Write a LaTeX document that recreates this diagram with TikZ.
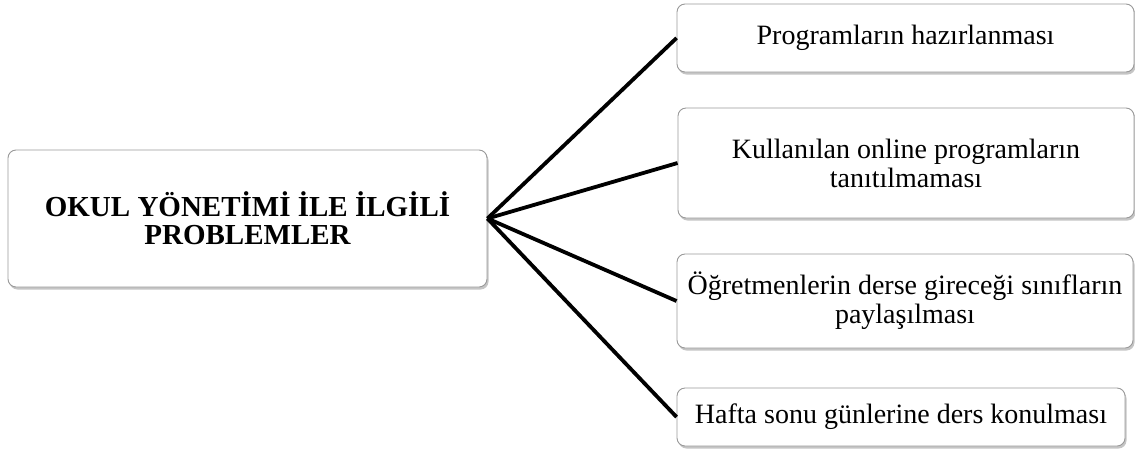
\documentclass[tikz,border=0pt]{standalone}
\usepackage{fontspec}
\setmainfont{Liberation Serif}
\usetikzlibrary{shadows}
\begin{document}
\begin{tikzpicture}[x=1pt,y=-1pt,
  box/.style={draw=black!40, line width=0.9pt, rounded corners=8pt, fill=white,
    drop shadow={opacity=0.45, shadow xshift=1.5pt, shadow yshift=-2.5pt},
    align=center, inner sep=0pt, font=\fontsize{28}{29}\selectfont},
  conn/.style={line width=3.8pt, black}]
\useasboundingbox[fill=white] (0,0) rectangle (1135,451);
\node[box, minimum width=479pt, minimum height=137pt, font=\bfseries\fontsize{29}{28}\selectfont] (main) at (247.5,218.5) {OKUL YÖNETİMİ İLE İLGİLİ\\PROBLEMLER};
\node[box, minimum width=457pt, minimum height=68pt] (b1) at (905.5,38) {Programların hazırlanması};
\node[box, minimum width=456pt, minimum height=110pt] (b2) at (906,163) {Kullanılan online programların\\tanıtılmaması};
\node[box, minimum width=456pt, minimum height=94pt] (b3) at (905,301) {Öğretmenlerin derse gireceği sınıfların\\paylaşılması};
\node[box, minimum width=448pt, minimum height=58pt] (b4) at (901,417) {Hafta sonu günlerine ders konulması};
\foreach \b in {b1,b2,b3,b4}
  \draw[conn] (main.east) -- (\b.west);
\end{tikzpicture}
\end{document}
